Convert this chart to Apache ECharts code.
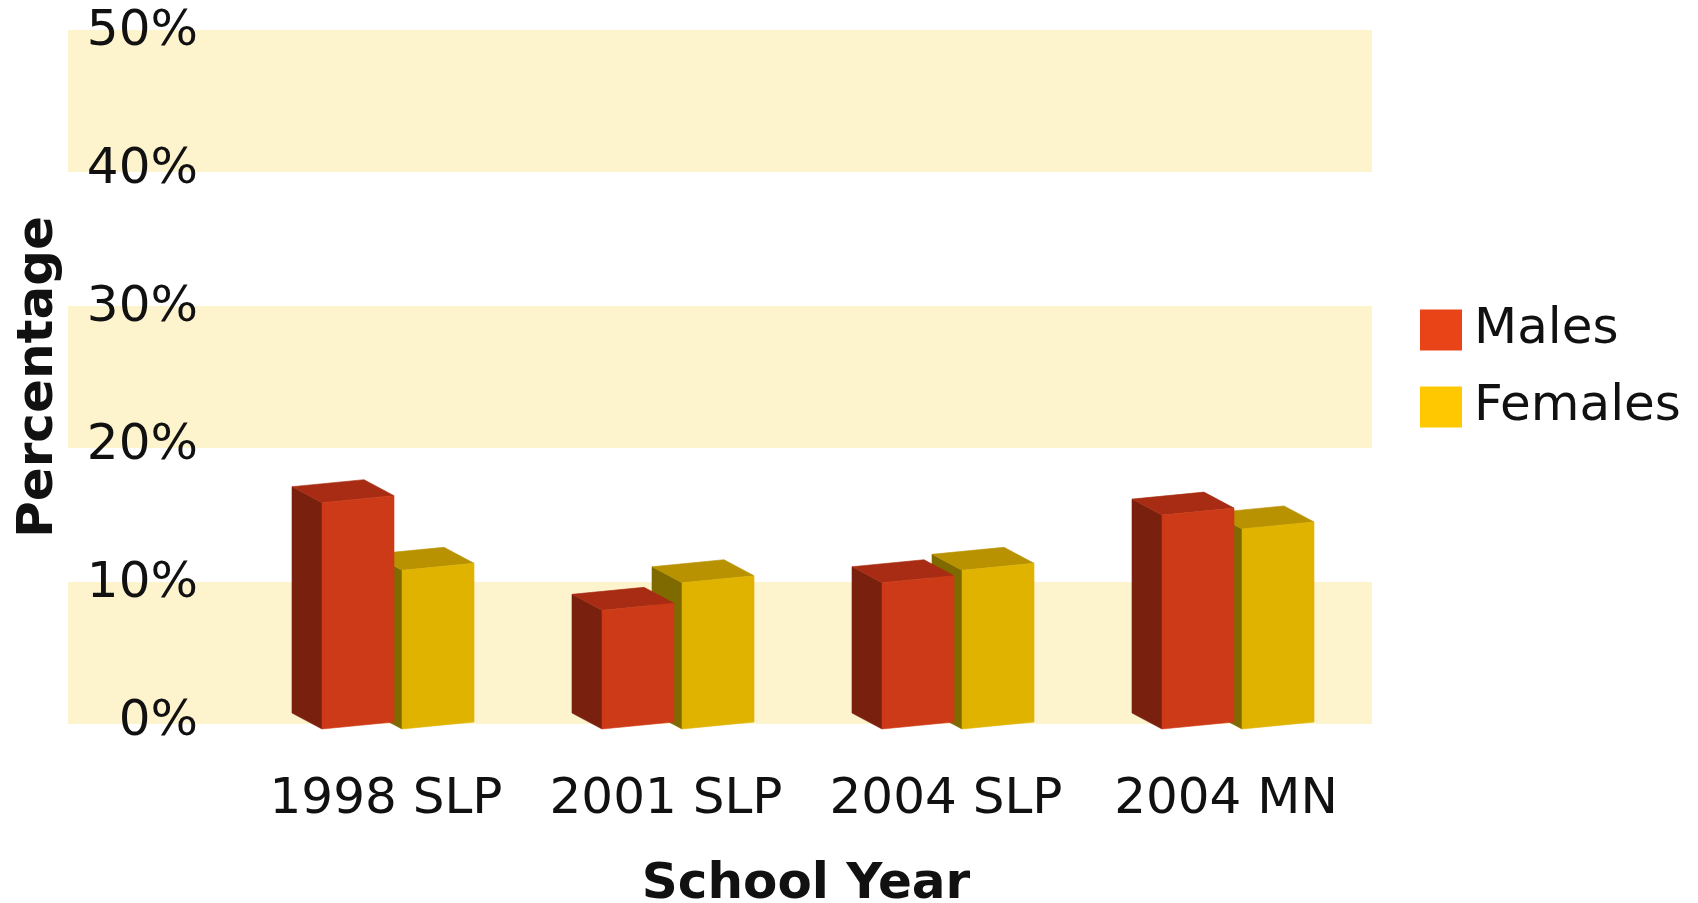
<!DOCTYPE html>
<html>
<head>
<meta charset="utf-8">
<script src="https://cdn.jsdelivr.net/npm/echarts@6/dist/echarts.min.js"></script>
<style>
html, body { margin: 0; padding: 0; background: #fff; }
#chart { width: 1698px; height: 903px; }
</style>
</head>
<body>
<div id="chart"></div>
<script>
const categories = ['1998 SLP', '2001 SLP', '2004 SLP', '2004 MN'];
const males = [16.4, 8.6, 10.6, 15.5];
const females = [11.5, 10.6, 11.5, 14.5];
const yTicks = [0, 10, 20, 30, 40, 50];
const bands = [[0, 10], [20, 30], [40, 50]];

const FONT = 'DejaVu Sans';
const chart = echarts.init(document.getElementById('chart'));

// fake 3D box: front face, left side face and top face
function box(frontL, frontR, colors) {
    return function (params, api) {
        const idx = api.value(0);
        const top = api.coord([idx, api.value(1)]);
        const base = api.coord([idx, 0]);
        const bw = api.size([1, 0])[0];
        const xl = top[0] + bw * frontL, xr = top[0] + bw * frontR;
        const yt = top[1], yb = base[1];
        const sk = 7, dx = -30, dy = -16;
        const face = (pts, c) => ({
            type: 'polygon',
            shape: { points: pts },
            style: { fill: c, stroke: c, lineWidth: 0.6 }
        });
        return {
            type: 'group',
            children: [
                face([[xl, yb + sk], [xl, yt + sk], [xl + dx, yt + sk + dy], [xl + dx, yb + sk + dy]], colors[1]),
                face([[xl, yt + sk], [xr, yt], [xr + dx, yt + dy], [xl + dx, yt + sk + dy]], colors[2]),
                face([[xl, yb + sk], [xr, yb], [xr, yt], [xl, yt + sk]], colors[0])
            ]
        };
    };
}

const option = {
    animation: false,
    backgroundColor: '#fff',
    textStyle: { fontFamily: FONT },
    legend: {
        data: ['Males', 'Females'],
        orient: 'vertical',
        left: 1415,
        top: 300,
        icon: 'rect',
        itemWidth: 42,
        itemHeight: 41,
        itemGap: 27,
        textStyle: { fontSize: 50, fontFamily: FONT, color: '#111', padding: [0, 0, 0, 7] }
    },
    grid: [
        { left: 246, right: 332, top: 32, bottom: 181, outerBoundsMode: 'none' },
        { left: 70, right: 328, top: 32, bottom: 181, outerBoundsMode: 'none' }
    ],
    xAxis: [{
        type: 'category',
        gridIndex: 0,
        data: categories,
        name: 'School Year',
        nameLocation: 'middle',
        nameGap: 138,
        nameTextStyle: { fontSize: 50, fontWeight: 'bold', fontFamily: FONT, color: '#111' },
        axisLine: { show: false },
        axisTick: { show: false },
        axisLabel: { interval: 0, fontSize: 50, fontFamily: FONT, color: '#111', margin: 53 }
    }, {
        type: 'category',
        gridIndex: 1,
        data: ['x'],
        show: false
    }],
    yAxis: [{
        type: 'value',
        gridIndex: 0,
        min: yTicks[0],
        max: yTicks[yTicks.length - 1],
        interval: 10,
        name: 'Percentage',
        nameLocation: 'middle',
        nameGap: 182,
        nameTextStyle: { fontSize: 50, fontWeight: 'bold', fontFamily: FONT, color: '#111' },
        axisLine: { show: false },
        axisTick: { show: false },
        splitLine: { show: false },
        axisLabel: { fontSize: 50, fontFamily: FONT, color: '#111', margin: 48, formatter: '{value}%' }
    }, {
        type: 'value',
        gridIndex: 1,
        min: yTicks[0],
        max: yTicks[yTicks.length - 1],
        show: false
    }],
    series: [{
        name: 'bands',
        type: 'line',
        xAxisIndex: 1,
        yAxisIndex: 1,
        z: -10,
        data: [null],
        silent: true,
        markArea: {
            silent: true,
            z: -10,
            itemStyle: { color: '#fdf3cd', borderColor: '#fdf3cd', borderWidth: 4 },
            data: bands.map(b => [{ yAxis: b[0] }, { yAxis: b[1] }])
        }
    }, {
        name: 'Females',
        type: 'custom',
        xAxisIndex: 0,
        yAxisIndex: 0,
        itemStyle: { color: '#ffc800' },
        renderItem: box(16 / 280, 88 / 280, ['#dfb300', '#7f6a00', '#b89200']),
        encode: { x: 0, y: 1 },
        data: females.map((v, i) => [i, v])
    }, {
        name: 'Males',
        type: 'custom',
        xAxisIndex: 0,
        yAxisIndex: 0,
        itemStyle: { color: '#e84418' },
        renderItem: box(-64 / 280, 8 / 280, ['#cd3a18', '#7a200e', '#a72c13']),
        encode: { x: 0, y: 1 },
        data: males.map((v, i) => [i, v])
    }]
};
chart.setOption(option);

window.addEventListener('resize', function () {
    chart.resize();
});
</script>
</body>
</html>
